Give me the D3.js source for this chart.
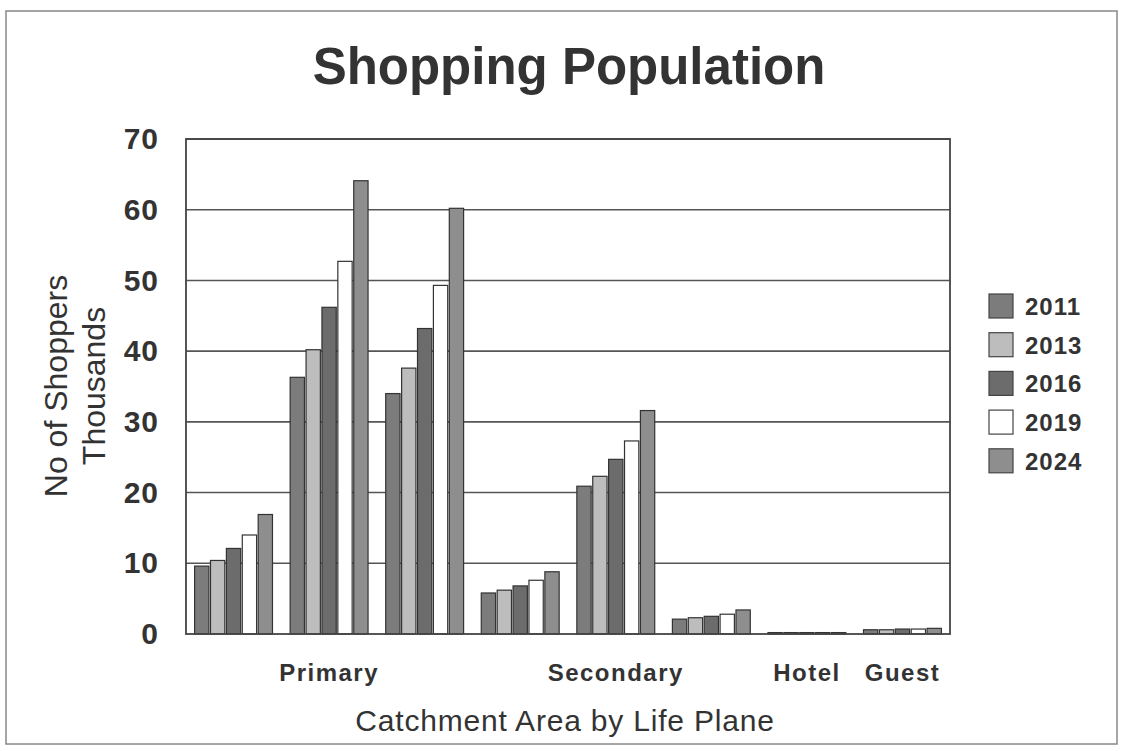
<!DOCTYPE html>
<html><head><meta charset="utf-8">
<script src="https://cdn.jsdelivr.net/npm/d3@7"></script>
<style>body{margin:0;background:#fff;}svg{display:block;font-family:"Liberation Sans",Arial,sans-serif;}</style>
</head><body><svg id="c" width="1125" height="751"></svg>
<script>
const categories = ["c1","c2","c3","c4","c5","c6","c7","c8"];
const categoryLabels = ["","Primary","","","Secondary","","Hotel","Guest"];
const seriesNames = ["2011","2013","2016","2019","2024"];
const v2011 = [9.6, 36.3, 34.0, 5.8, 20.9, 2.1, 0.2, 0.6];
const v2013 = [10.4, 40.2, 37.6, 6.2, 22.3, 2.3, 0.2, 0.6];
const v2016 = [12.1, 46.2, 43.2, 6.8, 24.7, 2.5, 0.2, 0.7];
const v2019 = [14.0, 52.7, 49.3, 7.6, 27.3, 2.8, 0.2, 0.7];
const v2024 = [16.9, 64.1, 60.2, 8.8, 31.6, 3.4, 0.2, 0.8];
const yTicks = [0,10,20,30,40,50,60,70];
const colors = ["#7c7c7c","#bdbdbd","#6c6c6c","#ffffff","#8e8e8e"];

const series = [v2011,v2013,v2016,v2019,v2024];
const svg = d3.select("#c");
const L=186, R=950, T=139, B=634;
const FONT = "'Liberation Sans',Arial,sans-serif";

svg.append("rect").attr("x",6).attr("y",11).attr("width",1111).attr("height",733)
  .attr("fill","#fff").attr("stroke","#888").attr("stroke-width",1.5);

const x = d3.scaleBand().domain(categories).range([L,R]).paddingInner(0.185).paddingOuter(0.09);
const xs = d3.scaleBand().domain(seriesNames).range([0,x.bandwidth()]).paddingInner(0.1);
const y = d3.scaleLinear().domain([0,70]).range([B,T]);

// gridlines
svg.append("g").selectAll("line").data(yTicks.slice(1)).join("line")
  .attr("x1",L).attr("x2",R).attr("y1",d=>y(d)).attr("y2",d=>y(d))
  .attr("stroke","#555").attr("stroke-width",1.6);

// bars
const rows = [];
categories.forEach((c,i)=>series.forEach((s,j)=>rows.push({c, s:seriesNames[j], v:s[i], j})));
svg.append("g").selectAll("rect").data(rows).join("rect")
  .attr("x",d=>x(d.c)+xs(d.s)).attr("width",xs.bandwidth())
  .attr("y",d=>y(d.v)).attr("height",d=>B-y(d.v))
  .attr("fill",d=>colors[d.j]).attr("stroke","#333").attr("stroke-width",1.2);

// plot frame
svg.append("rect").attr("x",L).attr("y",T).attr("width",R-L).attr("height",B-T)
  .attr("fill","none").attr("stroke","#444").attr("stroke-width",1.8);

// y axis
const ya = svg.append("g").attr("transform",`translate(${L},0)`)
  .call(d3.axisLeft(y).tickValues(yTicks).tickSize(0).tickPadding(27).tickFormat(d3.format("d")));
ya.select(".domain").remove();
ya.selectAll("text").attr("font-size",30).attr("font-weight","bold").attr("fill","#333")
  .attr("letter-spacing",1).attr("font-family",FONT);

// x axis
const xa = svg.append("g").attr("transform",`translate(0,${B})`)
  .call(d3.axisBottom(x).tickSize(0).tickPadding(30).tickFormat((d,i)=>categoryLabels[i]));
xa.select(".domain").remove();
xa.selectAll("text").attr("font-size",24).attr("font-weight","bold").attr("fill","#333")
  .attr("letter-spacing",1.5).attr("font-family",FONT);

// title
svg.append("text").attr("x",569).attr("y",84).attr("text-anchor","middle")
  .attr("font-size",51).attr("font-weight","bold").attr("fill","#333").text("Shopping Population");

// y title
const yt = svg.append("text").attr("transform","translate(67,386) rotate(-90)")
  .attr("text-anchor","middle").attr("font-size",32).attr("fill","#333");
yt.append("tspan").attr("x",0).attr("dy",0).text("No of Shoppers");
yt.append("tspan").attr("x",0).attr("dy",38).text("Thousands");

// x title
svg.append("text").attr("x",565).attr("y",731).attr("text-anchor","middle")
  .attr("font-size",30).attr("letter-spacing",0.8).attr("fill","#333").text("Catchment Area by Life Plane");

// legend
const lg = svg.append("g").selectAll("g").data(seriesNames).join("g")
  .attr("transform",(d,i)=>`translate(989,${294+i*38.7})`);
lg.append("rect").attr("width",24).attr("height",24)
  .attr("fill",(d,i)=>colors[i]).attr("stroke","#444").attr("stroke-width",1.2);
lg.append("text").attr("x",36).attr("y",21).attr("font-size",24).attr("font-weight","bold")
  .attr("letter-spacing",1).attr("fill","#333").text(d=>d);
</script></body></html>
